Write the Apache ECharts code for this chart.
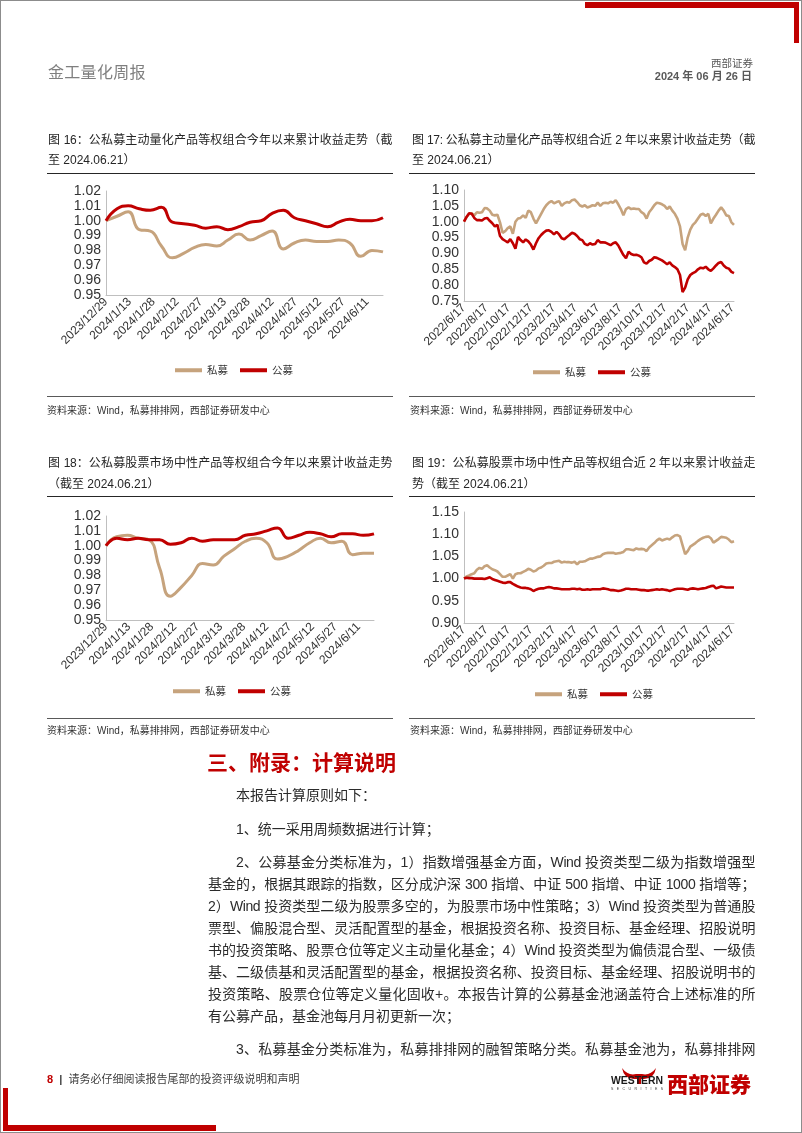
<!DOCTYPE html>
<html>
<head>
<meta charset="utf-8">
<script src="https://cdn.jsdelivr.net/npm/echarts/dist/echarts.min.js"></script>
<style>
html,body{margin:0;padding:0;background:#fff;}
body{width:802px;height:1133px;position:relative;overflow:hidden;}
#chart{position:absolute;left:0;top:0;width:802px;height:1133px;z-index:1;}
.t{position:absolute;white-space:nowrap;font-family:"Liberation Sans","Noto Sans CJK SC",sans-serif;z-index:2;}
.j{text-align:justify;text-align-last:justify;letter-spacing:-0.4px;}
.box{position:absolute;z-index:2;}
.title{font-size:12px;color:#262626;line-height:16px;}
.src{font-size:10px;color:#333;line-height:14px;}
.body{font-size:14px;color:#2b2b2b;line-height:20px;}
</style>
</head>
<body>
<div id="chart"></div>

<!-- page frame and decorative bars -->
<div class="box" style="left:0;top:0;width:800px;height:1131px;border:1px solid #8c8c8c;"></div>
<div class="box" style="left:585px;top:2px;width:212px;height:6px;background:#C00000;"></div>
<div class="box" style="left:794px;top:2px;width:5px;height:41px;background:#C00000;"></div>
<div class="box" style="left:3px;top:1088px;width:5px;height:43px;background:#C00000;"></div>
<div class="box" style="left:3px;top:1125px;width:213px;height:6px;background:#C00000;"></div>

<!-- header -->
<div class="t" style="left:48px;top:63px;font-size:16px;line-height:20px;color:#7f7f7f;letter-spacing:0.3px;">金工量化周报</div>
<div class="t" style="right:49px;top:56px;font-size:10.5px;line-height:14px;color:#595959;">西部证券</div>
<div class="t" style="right:50px;top:69px;font-size:11px;line-height:14px;color:#595959;font-weight:bold;">2024 年 06 月 26 日</div>

<!-- figure titles -->
<div class="t title j" style="left:48px;top:132px;width:344px;">图 16：公私募主动量化产品等权组合今年以来累计收益走势（截</div>
<div class="t title" style="left:48px;top:152px;">至 2024.06.21）</div>
<div class="t title j" style="left:412px;top:132px;width:343px;">图 17: 公私募主动量化产品等权组合近 2 年以来累计收益走势（截</div>
<div class="t title" style="left:412px;top:152px;">至 2024.06.21）</div>
<div class="box" style="left:47px;top:173px;width:346px;height:1px;background:#262626;"></div>
<div class="box" style="left:409px;top:173px;width:346px;height:1px;background:#262626;"></div>

<div class="box" style="left:47px;top:396px;width:346px;height:1px;background:#595959;"></div>
<div class="box" style="left:409px;top:396px;width:346px;height:1px;background:#595959;"></div>
<div class="t src" style="left:47px;top:404px;">资料来源：Wind，私募排排网，西部证券研发中心</div>
<div class="t src" style="left:410px;top:404px;">资料来源：Wind，私募排排网，西部证券研发中心</div>

<div class="t title j" style="left:48px;top:455px;width:344px;">图 18：公私募股票市场中性产品等权组合今年以来累计收益走势</div>
<div class="t title" style="left:48px;top:476px;">（截至 2024.06.21）</div>
<div class="t title j" style="left:412px;top:455px;width:343px;">图 19：公私募股票市场中性产品等权组合近 2 年以来累计收益走</div>
<div class="t title" style="left:412px;top:476px;">势（截至 2024.06.21）</div>
<div class="box" style="left:47px;top:496px;width:346px;height:1px;background:#262626;"></div>
<div class="box" style="left:409px;top:496px;width:346px;height:1px;background:#262626;"></div>

<div class="box" style="left:47px;top:718px;width:346px;height:1px;background:#595959;"></div>
<div class="box" style="left:409px;top:718px;width:346px;height:1px;background:#595959;"></div>
<div class="t src" style="left:47px;top:724px;">资料来源：Wind，私募排排网，西部证券研发中心</div>
<div class="t src" style="left:410px;top:724px;">资料来源：Wind，私募排排网，西部证券研发中心</div>

<!-- appendix -->
<div class="t" style="left:207px;top:750px;font-size:21px;line-height:26px;color:#C00000;font-weight:bold;">三、附录：计算说明</div>
<div class="t body" style="left:236px;top:785px;">本报告计算原则如下：</div>
<div class="t body" style="left:236px;top:819px;">1、统一采用周频数据进行计算；</div>
<div class="t body j" style="left:236px;top:852px;width:519px;">2、公募基金分类标准为，1）指数增强基金方面，Wind 投资类型二级为指数增强型</div>
<div class="t body j" style="left:208px;top:874px;width:547px;">基金的，根据其跟踪的指数，区分成沪深 300 指增、中证 500 指增、中证 1000 指增等；</div>
<div class="t body j" style="left:208px;top:896px;width:547px;">2）Wind 投资类型二级为股票多空的，为股票市场中性策略；3）Wind 投资类型为普通股</div>
<div class="t body j" style="left:208px;top:918px;width:547px;">票型、偏股混合型、灵活配置型的基金，根据投资名称、投资目标、基金经理、招股说明</div>
<div class="t body j" style="left:208px;top:940px;width:547px;">书的投资策略、股票仓位等定义主动量化基金；4）Wind 投资类型为偏债混合型、一级债</div>
<div class="t body j" style="left:208px;top:962px;width:547px;">基、二级债基和灵活配置型的基金，根据投资名称、投资目标、基金经理、招股说明书的</div>
<div class="t body j" style="left:208px;top:984px;width:547px;">投资策略、股票仓位等定义量化固收+。本报告计算的公募基金池涵盖符合上述标准的所</div>
<div class="t body" style="left:208px;top:1006px;">有公募产品，基金池每月月初更新一次；</div>
<div class="t body j" style="left:236px;top:1039px;width:519px;">3、私募基金分类标准为，私募排排网的融智策略分类。私募基金池为，私募排排网</div>

<!-- footer -->
<div class="t" style="left:47px;top:1072px;font-size:11px;line-height:14px;color:#404040;"><span style="color:#C00000;font-weight:bold;">8</span>&nbsp;&nbsp;<b>|</b>&nbsp;&nbsp;请务必仔细阅读报告尾部的投资评级说明和声明</div>
<svg class="box" style="left:608px;top:1064px;" width="150" height="32" viewBox="0 0 150 32">
  <path d="M14 4 Q20 12 28 10 L34 10 Q42 12 48 4 Q46 15 36 15 L33 15 L33 20 L29 20 L29 15 L26 15 Q16 15 14 4 Z" fill="#C00000"/>
  <text x="3" y="20" font-family="Liberation Sans" font-weight="bold" font-size="10" fill="#1a1a1a" textLength="52" lengthAdjust="spacingAndGlyphs">WESTERN</text>
  <text x="3" y="26" font-family="Liberation Sans" font-size="3.5" fill="#333" textLength="52" lengthAdjust="spacing">SECURITIES</text>
</svg>
<div class="t" style="left:667px;top:1070px;font-size:21px;line-height:26px;color:#C00000;font-weight:900;font-family:'Noto Sans CJK SC',sans-serif;">西部证券</div>

<script>
// ---------- data ----------
const ytdStart = '2023/12/29', ytdEnd = '2024/06/21';
const twoYStart = '2022/06/17', twoYEnd = '2024/06/21';
const seriesNames = ['私募', '公募'];

// Fig 16: active quant, YTD (weekly)
const priv16 = [1.000,1.003,1.006,0.994,0.993,0.983,0.975,0.978,0.982,0.984,0.983,0.987,0.991,0.987,0.990,0.993,0.981,0.985,0.987,0.986,0.986,0.987,0.985,0.976,0.980,0.979];
const pub16  = [1.000,1.008,1.010,1.008,1.007,1.009,0.999,0.998,0.997,0.995,0.996,0.994,0.996,0.999,1.000,1.005,1.007,1.002,1.000,0.998,0.996,0.999,1.001,1.000,1.000,1.002];

// Fig 18: market neutral, YTD (weekly)
const priv18 = [1.000,1.006,1.007,1.005,1.004,0.985,0.966,0.972,0.980,0.988,0.987,0.993,0.998,1.003,1.005,1.002,0.991,0.993,0.997,1.002,1.005,1.002,1.003,0.994,0.995,0.995];
const pub18  = [1.000,1.005,1.004,1.005,1.004,1.004,1.001,1.002,1.005,1.003,1.004,1.004,1.004,1.007,1.008,1.010,1.012,1.005,1.007,1.009,1.008,1.006,1.008,1.008,1.007,1.008];

// Fig 17: active quant, 2 years (weekly)
const priv17 = [1.000,1.015,1.025,1.027,1.020,1.030,1.028,1.030,1.043,1.042,
1.035,1.022,1.020,1.022,0.998,0.965,0.970,0.980,0.985,0.962,
1.000,1.010,1.012,1.020,1.012,1.035,1.030,1.010,0.995,1.010,
1.025,1.040,1.052,1.060,1.065,1.058,1.062,1.065,1.050,1.058,
1.062,1.060,1.068,1.070,1.062,1.052,1.048,1.052,1.045,1.048,
1.052,1.050,1.060,1.050,1.058,1.060,1.058,1.063,1.060,1.068,
1.055,1.040,1.020,1.040,1.045,1.040,1.042,1.040,1.040,1.030,
1.025,1.010,1.030,1.040,1.052,1.060,1.058,1.055,1.050,1.040,
1.048,1.035,1.025,1.010,0.985,0.930,0.910,0.950,0.975,0.990,
0.998,1.010,1.022,1.025,1.018,1.025,0.995,1.010,1.022,1.035,
1.045,1.035,1.020,1.018,0.998,0.990];
const pub17 = [1.000,1.015,1.027,1.025,1.012,1.005,1.005,1.004,1.010,1.012,
1.003,0.995,0.985,0.990,0.955,0.945,0.940,0.935,0.945,0.932,
0.915,0.952,0.942,0.935,0.944,0.938,0.928,0.912,0.932,0.948,
0.958,0.966,0.972,0.973,0.968,0.960,0.968,0.960,0.948,0.945,
0.952,0.958,0.965,0.962,0.955,0.945,0.942,0.930,0.926,0.932,
0.928,0.930,0.942,0.935,0.935,0.934,0.930,0.926,0.932,0.935,
0.925,0.910,0.895,0.885,0.905,0.898,0.895,0.896,0.893,0.888,
0.872,0.868,0.876,0.880,0.888,0.886,0.882,0.878,0.872,0.866,
0.872,0.862,0.857,0.850,0.832,0.778,0.792,0.818,0.832,0.838,
0.842,0.850,0.855,0.853,0.858,0.850,0.845,0.853,0.862,0.870,
0.873,0.862,0.855,0.852,0.842,0.838];

// Fig 19: market neutral, 2 years (weekly)
const priv19 = [1.000,1.005,1.007,1.010,1.012,1.020,1.024,1.022,1.028,1.030,
1.025,1.021,1.019,1.016,1.010,1.004,1.004,1.007,1.010,1.000,
1.010,1.012,1.012,1.015,1.018,1.022,1.020,1.016,1.018,1.023,
1.025,1.029,1.034,1.035,1.035,1.038,1.039,1.040,1.036,1.038,
1.037,1.037,1.036,1.038,1.032,1.038,1.038,1.039,1.042,1.045,
1.045,1.047,1.049,1.050,1.055,1.057,1.058,1.058,1.058,1.056,
1.057,1.058,1.060,1.066,1.066,1.065,1.064,1.068,1.066,1.067,
1.066,1.062,1.070,1.075,1.080,1.086,1.090,1.086,1.088,1.090,
1.088,1.093,1.097,1.098,1.095,1.075,1.055,1.062,1.072,1.076,
1.080,1.085,1.089,1.092,1.094,1.095,1.091,1.081,1.085,1.089,
1.094,1.093,1.092,1.088,1.082,1.084];
const pub19 = [1.000,1.002,1.001,1.001,1.000,1.000,1.000,1.000,0.999,1.001,
1.003,0.999,0.997,0.995,0.993,0.991,0.990,0.992,0.992,0.988,
0.985,0.982,0.980,0.979,0.979,0.978,0.976,0.972,0.975,0.977,
0.978,0.978,0.980,0.981,0.980,0.978,0.978,0.977,0.976,0.976,
0.976,0.976,0.977,0.977,0.976,0.977,0.975,0.975,0.976,0.975,
0.976,0.976,0.976,0.976,0.978,0.977,0.976,0.974,0.974,0.973,
0.972,0.973,0.975,0.977,0.977,0.976,0.976,0.976,0.975,0.974,
0.974,0.973,0.973,0.974,0.975,0.976,0.975,0.976,0.975,0.974,
0.972,0.974,0.976,0.977,0.977,0.977,0.976,0.975,0.977,0.978,
0.977,0.976,0.977,0.978,0.979,0.981,0.983,0.984,0.978,0.980,
0.982,0.981,0.980,0.980,0.980,0.980];

// y axis ranges
const yRange16 = {min: 0.95, max: 1.02, interval: 0.01};
const yRange17 = {min: 0.75, max: 1.10, interval: 0.05};
const yRange18 = {min: 0.95, max: 1.02, interval: 0.01};
const yRange19 = {min: 0.90, max: 1.15, interval: 0.05};

// ---------- helpers ----------
function dayList(a, b) {
  const p = s => s.split('/').map(Number);
  const [y1,m1,d1] = p(a), [y2,m2,d2] = p(b);
  let t = Date.UTC(y1, m1-1, d1); const end = Date.UTC(y2, m2-1, d2);
  const out = [];
  while (t <= end) {
    const d = new Date(t);
    out.push(d.getUTCFullYear() + '/' + (d.getUTCMonth()+1) + '/' + d.getUTCDate());
    t += 86400000;
  }
  return out;
}
const catsYTD = dayList(ytdStart, ytdEnd);
const cats2Y  = dayList(twoYStart, twoYEnd);
const weekly = (cats, vals) => vals.map((v, i) => [cats[i*7], v]);

const TAN = '#C6A37D', RED = '#C00000';
const labelFont = '"Liberation Sans", Arial, sans-serif';
const axisGray = '#BFBFBF';

function xAxis(idx, cats, intervalFn) {
  return {
    type: 'category', gridIndex: idx, data: cats, boundaryGap: false,
    axisLine: {show: true, lineStyle: {color: axisGray, width: 1}},
    axisTick: {show: false},
    splitLine: {show: false},
    axisLabel: {interval: intervalFn, rotate: 45, margin: 5, fontSize: 12,
      color: '#333', fontFamily: labelFont}
  };
}
function yAxis(idx, r) {
  return {
    type: 'value', gridIndex: idx, min: r.min, max: r.max, interval: r.interval,
    axisLine: {show: true, lineStyle: {color: axisGray, width: 1}},
    axisTick: {show: false},
    splitLine: {show: false},
    axisLabel: {margin: 5, fontSize: 14, color: '#333', fontFamily: labelFont,
      formatter: v => v.toFixed(2)}
  };
}
function line(name, idx, data, color, width, smooth) {
  return {
    type: 'line', name, xAxisIndex: idx, yAxisIndex: idx, data,
    symbol: 'none', smooth, connectNulls: true,
    lineStyle: {color, width}, itemStyle: {color}, z: name === '公募' ? 3 : 2
  };
}
function legend(left, top) {
  return {
    left, top, orient: 'horizontal', padding: 0, itemGap: 12,
    itemWidth: 27, itemHeight: 4, icon: 'rect',
    data: seriesNames, selectedMode: false,
    textStyle: {fontSize: 10.5, color: '#333', fontFamily: '"Noto Sans CJK SC", sans-serif'}
  };
}

const ytdInterval = (i) => i % 15 === 0;
const twoYInterval = (i, v) => {
  const parts = String(v).split('/');
  return Number(parts[2]) === 17 && Number(parts[1]) % 2 === 0;
};

const option = {
  animation: false,
  grid: [
    {left: 106, top: 191, width: 277, height: 104, containLabel: false, outerBoundsMode: 'none'},
    {left: 464, top: 190, width: 270, height: 111, containLabel: false, outerBoundsMode: 'none'},
    {left: 106, top: 516, width: 268, height: 104, containLabel: false, outerBoundsMode: 'none'},
    {left: 464, top: 512, width: 270, height: 111, containLabel: false, outerBoundsMode: 'none'}
  ],
  xAxis: [
    xAxis(0, catsYTD, ytdInterval),
    xAxis(1, cats2Y, twoYInterval),
    xAxis(2, catsYTD, ytdInterval),
    xAxis(3, cats2Y, twoYInterval)
  ],
  yAxis: [yAxis(0, yRange16), yAxis(1, yRange17), yAxis(2, yRange18), yAxis(3, yRange19)],
  legend: [legend(175, 365), legend(533, 367), legend(173, 686), legend(535, 689)],
  series: [
    line('私募', 0, weekly(catsYTD, priv16), TAN, 3, true),
    line('公募', 0, weekly(catsYTD, pub16), RED, 3, true),
    line('私募', 1, weekly(cats2Y, priv17), TAN, 2.6, false),
    line('公募', 1, weekly(cats2Y, pub17), RED, 2.6, false),
    line('私募', 2, weekly(catsYTD, priv18), TAN, 3, true),
    line('公募', 2, weekly(catsYTD, pub18), RED, 3, true),
    line('私募', 3, weekly(cats2Y, priv19), TAN, 2.6, false),
    line('公募', 3, weekly(cats2Y, pub19), RED, 2.6, false)
  ]
};
const chart = echarts.init(document.getElementById('chart'), null, {renderer: 'canvas'});
chart.setOption(option);
</script>
</body>
</html>
